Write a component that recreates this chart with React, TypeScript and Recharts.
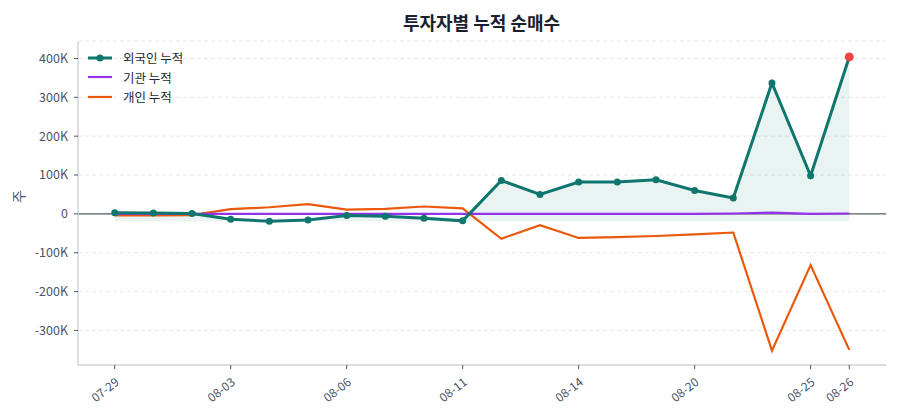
import React from 'react'
import {
  ComposedChart,
  Area,
  Line,
  XAxis,
  YAxis,
  CartesianGrid,
  ReferenceLine,
  Label,
} from 'recharts'

const DATES = [
  '07-29', '07-30', '07-31', '08-03', '08-04', '08-05', '08-06', '08-07', '08-08', '08-11',
  '08-12', '08-13', '08-14', '08-18', '08-19', '08-20', '08-21', '08-22', '08-25', '08-26',
]
const FOREIGN = [
  3000, 2500, 1000, -14000, -19000, -16000, -4000, -6000, -11000, -18000,
  86000, 50000, 82000, 82000, 88000, 60000, 41000, 337000, 98000, 404000,
]
const INSTITUTION = [
  0, 0, 0, 0, 0, 0, 0, 0, 0, 0,
  0, 0, 0, 0, 0, 0, 1000, 3000, 0, 1000,
]
const INDIVIDUAL = [
  -4000, -4000, -3000, 12000, 17000, 25000, 11000, 13000, 19000, 14000,
  -64000, -29000, -62000, -60000, -57000, -53000, -48000, -352000, -132000, -350000,
]
const X_TICKS = [0, 3, 6, 9, 12, 15, 18, 19]
const Y_TICKS = [-300000, -200000, -100000, 0, 100000, 200000, 300000, 400000]

const COLORS = {
  foreign: '#0f766e',
  institution: '#9333ea',
  individual: '#ea580c',
  last: '#ef4444',
}

const FONT = '"Noto Sans CJK KR", "Noto Sans", sans-serif'

const data = DATES.map((d, i) => ({
  idx: i,
  date: d,
  foreign: FOREIGN[i],
  institution: INSTITUTION[i],
  individual: INDIVIDUAL[i],
}))

const foreignMin = Math.min(...FOREIGN)

const fmtK = (v: number) => (v === 0 ? '0' : `${Math.round(v / 1000)}K`)

const legendItems = [
  { label: '외국인 누적', color: COLORS.foreign, dot: true },
  { label: '기관 누적', color: COLORS.institution, dot: false },
  { label: '개인 누적', color: COLORS.individual, dot: false },
]

function LegendBox() {
  return (
    <div
      style={{
        position: 'absolute',
        left: 87,
        top: 48,
        fontFamily: FONT,
        fontSize: 12.5,
        color: '#1f2937',
      }}
    >
      {legendItems.map(it => (
        <div key={it.label} style={{ display: 'flex', alignItems: 'center', height: 19.5 }}>
          <svg width={26} height={10} style={{ marginRight: 10 }}>
            <line x1={1} y1={5} x2={25} y2={5} stroke={it.color} strokeWidth={it.dot ? 3 : 2.2} />
            {it.dot && <circle cx={13} cy={5} r={3.5} fill={it.color} />}
          </svg>
          <span>{it.label}</span>
        </div>
      ))}
    </div>
  )
}

const renderDot = (props: any) => {
  const { cx, cy, index } = props
  if (cx == null || cy == null) return <g key={`d${index}`} />
  const last = index === DATES.length - 1
  return (
    <circle
      key={`d${index}`}
      cx={cx}
      cy={cy}
      r={last ? 4.5 : 3.5}
      fill={last ? COLORS.last : COLORS.foreign}
    />
  )
}

export default function App() {
  return (
    <div style={{ position: 'absolute', left: 0, top: 0, width: 900, height: 420, background: '#fff' }}>
      <ComposedChart
        width={900}
        height={420}
        data={data}
        margin={{ top: 41, right: 14, bottom: 0, left: 0 }}
        style={{ fontFamily: FONT }}
      >
        <CartesianGrid vertical={false} stroke="#e5e7eb" strokeDasharray="4 3" />
        <XAxis
          dataKey="idx"
          type="number"
          domain={[-0.95, 19.95]}
          ticks={X_TICKS}
          tickFormatter={(v: number) => DATES[v]}
          height={55}
          interval={0}
          axisLine={{ stroke: '#d1d5db', strokeWidth: 1.5 }}
          tickLine={{ stroke: '#4b5563' }}
          tickSize={4}
          tickMargin={8}
          angle={-38}
          textAnchor="end"
          tick={{ fill: '#4a5568', fontSize: 12 }}
        />
        <YAxis
          type="number"
          domain={[-389000, 445000]}
          ticks={Y_TICKS}
          tickFormatter={fmtK}
          width={78}
          axisLine={{ stroke: '#d1d5db', strokeWidth: 1.5 }}
          tickLine={{ stroke: '#4b5563' }}
          tickSize={4}
          tickMargin={6}
          tick={{ fill: '#4a5568', fontSize: 12.5 }}
          allowDataOverflow
        >
          <Label value="주" angle={-90} position="insideLeft" offset={19} style={{ fill: '#4a5568', fontSize: 14 }} />
        </YAxis>
        <ReferenceLine y={0} stroke="#2d3748" strokeWidth={1} />
        <Area
          dataKey="foreign"
          type="linear"
          baseValue={foreignMin}
          stroke="none"
          fill={COLORS.foreign}
          fillOpacity={0.09}
          isAnimationActive={false}
        />
        <Line
          dataKey="individual"
          type="linear"
          stroke={COLORS.individual}
          strokeWidth={2.2}
          dot={false}
          isAnimationActive={false}
        />
        <Line
          dataKey="institution"
          type="linear"
          stroke={COLORS.institution}
          strokeWidth={2.2}
          dot={false}
          isAnimationActive={false}
        />
        <Line
          dataKey="foreign"
          type="linear"
          stroke={COLORS.foreign}
          strokeWidth={3}
          dot={renderDot}
          activeDot={false}
          isAnimationActive={false}
        />
      </ComposedChart>
      <div
        style={{
          position: 'absolute',
          left: 78,
          width: 807,
          top: 9,
          textAlign: 'center',
          fontFamily: FONT,
          fontWeight: 700,
          fontSize: 18,
          color: '#1a202c',
        }}
      >
        투자자별 누적 순매수
      </div>
      <LegendBox />
    </div>
  )
}
